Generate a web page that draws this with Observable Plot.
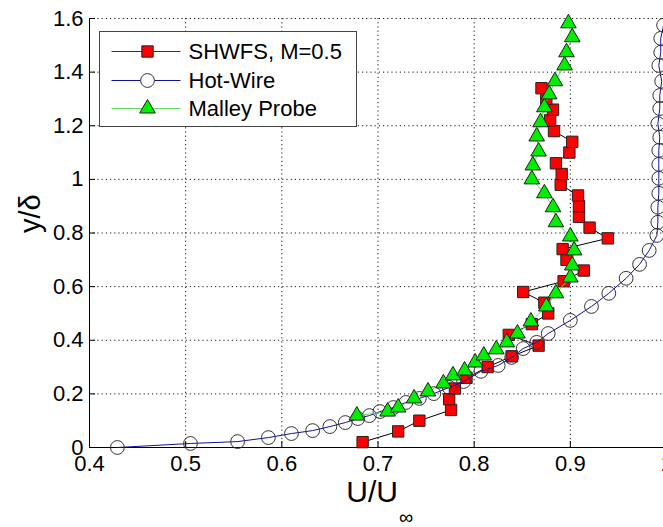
<!DOCTYPE html>
<html><head><meta charset="utf-8">
<script src="https://cdn.jsdelivr.net/npm/d3@7"></script>
<script src="https://cdn.jsdelivr.net/npm/@observablehq/plot@0.6"></script>
<style>
html,body{margin:0;padding:0;background:#fff;overflow:hidden;}
#chart{position:relative;width:663px;height:527px;overflow:hidden;}
</style></head><body><div id="chart"></div>
<script>
// SHWFS, M=0.5 (red squares)
const shwfsU = [0.684,0.721,0.743,0.776,0.774,0.780,0.792,0.814,0.839,0.867,0.836,0.860,0.877,0.873,0.851,0.893,0.914,0.896,0.892,0.939,0.920,0.909,0.909,0.908,0.890,0.891,0.885,0.899,0.902,0.883,0.879,0.882,0.875,0.870];
const shwfsY = [0.02,0.06,0.10,0.14,0.18,0.22,0.26,0.30,0.34,0.38,0.42,0.46,0.50,0.54,0.58,0.62,0.66,0.70,0.74,0.78,0.82,0.86,0.90,0.94,0.98,1.02,1.06,1.10,1.14,1.18,1.22,1.26,1.30,1.34];
// Hot-Wire (open circles)
const hotU = [0.429,0.505,0.554,0.586,0.610,0.632,0.650,0.666,0.679,0.691,0.702,0.716,0.729,0.743,0.758,0.774,0.789,0.807,0.825,0.839,0.851,0.865,0.877,0.900,0.922,0.940,0.958,0.972,0.982,0.990,0.991,0.991,0.992,0.992,0.992,0.992,0.993,0.991,0.993,0.993,0.995,0.992,0.994,0.994,0.997];
const hotY = [0.000,0.015,0.022,0.037,0.052,0.063,0.078,0.093,0.108,0.119,0.134,0.149,0.168,0.183,0.201,0.224,0.246,0.284,0.306,0.336,0.369,0.392,0.425,0.474,0.526,0.575,0.631,0.683,0.735,0.791,0.840,0.896,0.948,1.004,1.056,1.108,1.157,1.208,1.264,1.313,1.366,1.425,1.474,1.526,1.575];
// Malley Probe (green triangles)
const malleyU = [0.678,0.710,0.721,0.7375,0.752,0.768,0.778,0.790,0.801,0.810,0.823,0.834,0.845,0.859,0.875,0.885,0.900,0.902,0.904,0.900,0.885,0.882,0.873,0.860,0.861,0.867,0.865,0.869,0.873,0.878,0.884,0.894,0.896,0.902,0.898];
const malleyY = [0.119,0.134,0.149,0.183,0.209,0.239,0.269,0.287,0.317,0.343,0.366,0.392,0.425,0.470,0.526,0.575,0.634,0.679,0.735,0.787,0.840,0.896,0.948,1.000,1.052,1.104,1.160,1.213,1.269,1.317,1.366,1.425,1.474,1.530,1.582];

const xTicks = [0.4,0.5,0.6,0.7,0.8,0.9,1.0];
const yTicks = [0,0.2,0.4,0.6,0.8,1.0,1.2,1.4,1.6];
const seriesNames = ["SHWFS, M=0.5","Hot-Wire","Malley Probe"];

const shwfs = shwfsU.map((u,i)=>({u, y: shwfsY[i]}));
const hot = hotU.map((u,i)=>({u, y: hotY[i]}));
const malley = malleyU.map((u,i)=>({u, y: malleyY[i]}));

const font = "'Liberation Sans', Arial, sans-serif";
const fmt = d => String(+(+d).toFixed(1));

const sq = {symbol:"square", r:6.4, fill:"#ff0000", stroke:"#222", strokeWidth:1};
const ci = {symbol:"circle", r:6.9, fill:"none", stroke:"#333", strokeWidth:1};
const tr = {symbol:"triangle", r:5.8, fill:"#00ee00", stroke:"#222", strokeWidth:1};

const plot = Plot.plot({
  width:663, height:527,
  marginLeft:89, marginRight:-3, marginTop:18, marginBottom:80,
  style:{fontFamily:font, fontSize:"22px", background:"#fff", color:"#000", overflow:"hidden"},
  x:{domain:[0.4,1.0]},
  y:{domain:[0,1.6]},
  marks:[
    Plot.gridX(xTicks, {stroke:"#000", strokeOpacity:0.9, strokeDasharray:"1.2,3"}),
    Plot.gridY(yTicks, {stroke:"#000", strokeOpacity:0.9, strokeDasharray:"1.2,3"}),
    Plot.ruleX([0.4], {stroke:"#000"}),
    Plot.ruleY([0], {stroke:"#000"}),
    Plot.axisX(xTicks, {tickSize:-6, tickPadding:14, tickFormat:fmt, label:null, fontSize:22}),
    Plot.axisY(yTicks, {tickSize:-6, tickPadding:12, tickFormat:fmt, label:null, fontSize:22}),
    Plot.line(shwfs, {x:"u", y:"y", stroke:"#000", strokeWidth:1}),
    Plot.dot(shwfs, {x:"u", y:"y", ...sq}),
    Plot.line(hot, {x:"u", y:"y", stroke:"#1010a0", strokeWidth:1}),
    Plot.dot(hot, {x:"u", y:"y", ...ci}),
    Plot.line(malley, {x:"u", y:"y", stroke:"#66dd66", strokeWidth:1}),
    Plot.dot(malley, {x:"u", y:"y", ...tr}),
    Plot.text(["y/δ"], {frameAnchor:"left", rotate:-90, dx:-59, fontSize:29}),
    Plot.text(["U/U"], {frameAnchor:"bottom", textAnchor:"end", dx:20, dy:54, fontSize:30}),
    Plot.text(["∞"], {frameAnchor:"bottom", textAnchor:"start", dx:21, dy:76, fontSize:20})
  ]
});
document.getElementById("chart").appendChild(plot);

// Legend (inside plot area, top-left)
const svg = d3.select(plot);
const lg = svg.append("g").attr("transform","translate(99.5,31.5)").attr("text-anchor","start");
lg.append("rect").attr("width",257).attr("height",95).attr("fill","#fff").attr("stroke","#444");
const rows = [
  {name:seriesNames[0], line:"#333", m:sq, type:d3.symbolSquare},
  {name:seriesNames[1], line:"#1010a0", m:ci, type:d3.symbolCircle},
  {name:seriesNames[2], line:"#66dd66", m:tr, type:d3.symbolTriangle}
];
const rowY = [20, 49, 77];
rows.forEach((r,i)=>{
  const g = lg.append("g").attr("transform",`translate(0,${rowY[i]})`);
  g.append("line").attr("x1",12).attr("x2",81).attr("y1",0).attr("y2",0).attr("stroke",r.line).attr("stroke-width",1);
  g.append("path").attr("transform","translate(48,0)")
    .attr("d", d3.symbol(r.type, Math.PI*r.m.r*r.m.r)())
    .attr("fill", r.m.fill==="none" ? "#fff" : r.m.fill).attr("stroke", r.m.stroke);
  g.append("text").attr("x",89).attr("dy","0.35em").attr("text-anchor","start")
    .attr("font-family",font).attr("font-size",22).attr("fill","#000").text(r.name);
});
</script>
</body></html>
